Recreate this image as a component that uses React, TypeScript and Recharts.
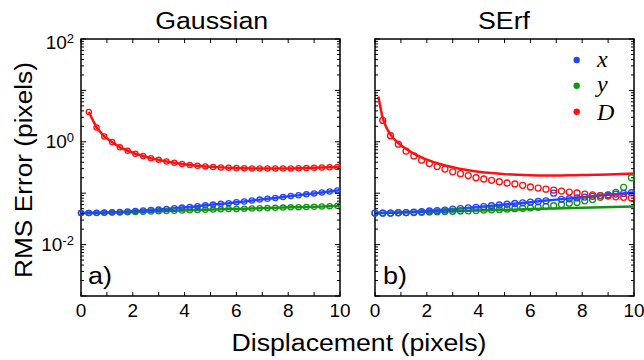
import { ComposedChart, Line, Scatter, XAxis, YAxis, ReferenceArea } from 'recharts';

// sample positions (pixels of displacement)
const markerX = [0, 0.3, 0.6, 0.9, 1.2, 1.5, 1.8, 2.1, 2.4, 2.7, 3.0, 3.3, 3.6, 3.9, 4.2, 4.5, 4.8, 5.1, 5.4, 5.7, 6.0, 6.3, 6.6, 6.9, 7.2, 7.5, 7.8, 8.1, 8.4, 8.7, 9.0, 9.3, 9.6, 9.9];
const markerXNoZero = markerX.slice(1);

// (a) Gaussian: simulated errors
const gaussX = [0.041, 0.041, 0.0415, 0.042, 0.0425, 0.043, 0.044, 0.045, 0.046, 0.047, 0.048, 0.0495, 0.051, 0.0525, 0.054, 0.056, 0.058, 0.06, 0.062, 0.064, 0.067, 0.069, 0.072, 0.075, 0.078, 0.081, 0.084, 0.088, 0.091, 0.095, 0.099, 0.103, 0.108, 0.113];
const gaussY = [0.041, 0.041, 0.041, 0.0415, 0.042, 0.042, 0.0425, 0.043, 0.0435, 0.044, 0.0445, 0.045, 0.0455, 0.046, 0.0465, 0.047, 0.0475, 0.048, 0.0485, 0.049, 0.0495, 0.05, 0.0505, 0.051, 0.0515, 0.052, 0.0525, 0.053, 0.0535, 0.054, 0.0545, 0.055, 0.056, 0.057];
const gaussD = [3.8, 1.9, 1.27, 0.99, 0.78, 0.67, 0.585, 0.53, 0.48, 0.445, 0.415, 0.39, 0.37, 0.355, 0.342, 0.332, 0.324, 0.318, 0.313, 0.309, 0.306, 0.304, 0.303, 0.302, 0.302, 0.303, 0.304, 0.306, 0.309, 0.312, 0.316, 0.32, 0.324];
// end values of the fit at x = 10
const gaussEnd = { x: 0.115, y: 0.0573, D: 0.326 };

// (b) SErf: simulated errors
const serfX = [0.041, 0.041, 0.041, 0.042, 0.042, 0.043, 0.044, 0.045, 0.046, 0.047, 0.049, 0.05, 0.052, 0.053, 0.055, 0.057, 0.059, 0.061, 0.063, 0.065, 0.067, 0.069, 0.071, 0.1, 0.076, 0.078, 0.081, 0.084, 0.087, 0.09, 0.093, 0.096, 0.099, 0.102];
const serfY = [0.041, 0.041, 0.041, 0.0415, 0.042, 0.042, 0.0425, 0.043, 0.0435, 0.044, 0.0445, 0.045, 0.0455, 0.046, 0.047, 0.0475, 0.048, 0.049, 0.05, 0.051, 0.052, 0.053, 0.055, 0.057, 0.06, 0.064, 0.066, 0.071, 0.075, 0.083, 0.092, 0.104, 0.13, 0.2];
const serfD = [2.6, 1.31, 0.9, 0.66, 0.53, 0.44, 0.38, 0.33, 0.295, 0.26, 0.24, 0.22, 0.2, 0.189, 0.178, 0.167, 0.158, 0.151, 0.142, 0.132, 0.126, 0.12, 0.115, 0.11, 0.105, 0.101, 0.096, 0.093, 0.09, 0.088, 0.085, 0.083, 0.081];

// (b) SErf: theory curves
const serfFitDX = [0.13, 0.2, 0.3, 0.45, 0.6, 0.8, 1.0, 1.25, 1.5, 1.75, 2.0, 2.5, 3.0, 3.5, 4.0, 4.5, 5.0, 5.5, 6.0, 6.5, 7.0, 7.5, 8.0, 8.5, 9.0, 9.5, 10];
const serfFitD = [7.6, 4.9, 2.9, 1.85, 1.38, 1.05, 0.86, 0.7, 0.59, 0.51, 0.45, 0.37, 0.32, 0.285, 0.262, 0.246, 0.235, 0.228, 0.224, 0.222, 0.222, 0.223, 0.225, 0.228, 0.232, 0.237, 0.242];
const serfFitXX = [0, 1, 2, 3, 4, 5, 6, 7, 8, 9, 10];
const serfFitX = [0.041, 0.042, 0.045, 0.049, 0.054, 0.06, 0.067, 0.075, 0.083, 0.093, 0.103];
const serfFitYX = [0, 2, 4, 6, 8, 10];
const serfFitY = [0.041, 0.0435, 0.046, 0.049, 0.052, 0.055];

const xTicks = [0, 1, 2, 3, 4, 5, 6, 7, 8, 9, 10];
const decades = [0.001, 0.01, 0.1, 1, 10];
const minorSteps = [1, 2, 3, 4, 5, 6, 7, 8, 9];
const yTicks = [...decades.flatMap((d) => minorSteps.map((m) => +(d * m).toPrecision(3))), 100];
const labelledExps = [2, 0, -2];

const BLUE = '#2244ff';
const GREEN = '#129612';
const RED = '#ff1010';
const FONT = '"Liberation Sans", Arial, sans-serif';

const PLOT_W = 259;
const PLOT_H = 257;

const zip = (xs: number[], ys: number[]) => xs.map((x, i) => ({ x, y: ys[i] }));

function YTick(props: any) {
  const { x, y, payload, showLabels } = props;
  const v = payload.value as number;
  const exp = Math.round(Math.log10(v));
  const major = Math.abs(v - Math.pow(10, exp)) < 1e-6 * v;
  const len = major ? 5 : 3;
  const label = showLabels && major && labelledExps.includes(exp);
  const base = y + (exp === 2 ? 9.5 : 6.5);
  return (
    <g>
      <line x1={x} x2={x + len} y1={y} y2={y} stroke="#000" strokeWidth={1} />
      <line x1={x + PLOT_W} x2={x + PLOT_W - len} y1={y} y2={y} stroke="#000" strokeWidth={1} />
      {label && (
        <text x={x - 7} y={base} textAnchor="end" fontSize={19} fontFamily={FONT} fill="#000">
          10
          <tspan dy={-6} fontSize={13}>
            {exp}
          </tspan>
        </text>
      )}
    </g>
  );
}

function XTick(props: any) {
  const { x, y, payload } = props;
  const v = payload.value as number;
  return (
    <g>
      <line x1={x} x2={x} y1={y} y2={y - 4} stroke="#000" strokeWidth={1} />
      <line x1={x} x2={x} y1={y - PLOT_H} y2={y - PLOT_H + 4} stroke="#000" strokeWidth={1} />
      {v % 2 === 0 && (
        <text x={x} y={y + 21} textAnchor="middle" fontSize={19} fontFamily={FONT} fill="#000">
          {v}
        </text>
      )}
    </g>
  );
}

const ring = (color: string, r: number, w: number) => (p: any) => (
  <circle cx={p.cx} cy={p.cy} r={r} fill="none" stroke={color} strokeWidth={w} />
);

function Panel({ width, left, right, showLabels, children }: any) {
  return (
    <ComposedChart width={width} height={360} margin={{ top: 39, right, bottom: 54, left }}>
      <XAxis
        type="number"
        dataKey="x"
        domain={[0, 10]}
        ticks={xTicks}
        interval={0}
        height={10}
        tickSize={0}
        tickMargin={0}
        tickLine={false}
        axisLine={false}
        tick={<XTick />}
      />
      <YAxis
        type="number"
        dataKey="y"
        scale="log"
        domain={[0.001, 100]}
        allowDataOverflow
        ticks={yTicks}
        interval={0}
        width={10}
        tickSize={0}
        tickMargin={0}
        tickLine={false}
        axisLine={false}
        tick={<YTick showLabels={showLabels} />}
      />
      {children}
      <ReferenceArea x1={0} x2={10} y1={0.001} y2={100} fill="none" stroke="#000" strokeWidth={1.5} ifOverflow="visible" />
    </ComposedChart>
  );
}

export default function App() {
  const gaussLineX = [...markerX, 10];
  const gaussLineD = [...markerXNoZero, 10];
  return (
    <div style={{ position: 'absolute', left: 0, top: 0, width: 644, height: 360, background: '#fff' }}>
      <div style={{ position: 'absolute', left: 0, top: 0 }}>
        <Panel width={350} left={71} right={10} showLabels>
          <Line data={zip(gaussLineX, [...gaussY, gaussEnd.y])} dataKey="y" stroke={GREEN} strokeWidth={2.5} dot={false} activeDot={false} isAnimationActive={false} />
          <Line data={zip(gaussLineX, [...gaussX, gaussEnd.x])} dataKey="y" stroke={BLUE} strokeWidth={2.5} dot={false} activeDot={false} isAnimationActive={false} />
          <Line data={zip(gaussLineD, [...gaussD, gaussEnd.D])} dataKey="y" stroke={RED} strokeWidth={2.5} dot={false} activeDot={false} isAnimationActive={false} />
          <Scatter data={zip(markerX, gaussY)} shape={ring(GREEN, 2.6, 1.3)} isAnimationActive={false} />
          <Scatter data={zip(markerX, gaussX)} shape={ring(BLUE, 2.6, 1.3)} isAnimationActive={false} />
          <Scatter data={zip(markerXNoZero, gaussD)} shape={ring(RED, 2.6, 1.3)} isAnimationActive={false} />
        </Panel>
      </div>
      <div style={{ position: 'absolute', left: 320, top: 0 }}>
        <Panel width={324} left={45} right={10} showLabels={false}>
          <Line data={zip(serfFitYX, serfFitY)} dataKey="y" type="monotone" stroke={GREEN} strokeWidth={2.5} dot={false} activeDot={false} isAnimationActive={false} />
          <Line data={zip(serfFitXX, serfFitX)} dataKey="y" type="monotone" stroke={BLUE} strokeWidth={2.5} dot={false} activeDot={false} isAnimationActive={false} />
          <Line data={zip(serfFitDX, serfFitD)} dataKey="y" type="monotone" stroke={RED} strokeWidth={2.5} dot={false} activeDot={false} isAnimationActive={false} />
          <Scatter data={zip(markerX, serfY)} shape={ring(GREEN, 3, 1.3)} isAnimationActive={false} />
          <Scatter data={zip(markerX, serfX)} shape={ring(BLUE, 3, 1.3)} isAnimationActive={false} />
          <Scatter data={zip(markerXNoZero, serfD)} shape={ring(RED, 3, 1.3)} isAnimationActive={false} />
        </Panel>
      </div>
      <svg width={644} height={360} style={{ position: 'absolute', left: 0, top: 0, pointerEvents: 'none' }}>
        <g fontFamily={FONT} fontSize={23} fill="#000">
          <text x={211.7} y={29} textAnchor="middle" textLength={113} lengthAdjust="spacingAndGlyphs">Gaussian</text>
          <text x={504} y={29} textAnchor="middle" textLength={52} lengthAdjust="spacingAndGlyphs">SErf</text>
          <text x={359} y={351} textAnchor="middle" textLength={255} lengthAdjust="spacingAndGlyphs">Displacement (pixels)</text>
          <text transform="translate(32,170) rotate(-90)" textAnchor="middle" textLength={216} lengthAdjust="spacingAndGlyphs">RMS Error (pixels)</text>
          <text x={88} y={284} textLength={24} lengthAdjust="spacingAndGlyphs">a)</text>
          <text x={383} y={284} textLength={24} lengthAdjust="spacingAndGlyphs">b)</text>
        </g>
        <g fontFamily='"Liberation Serif", "Times New Roman", serif' fontStyle="italic" fontSize={24} fill="#000">
          <circle cx={576.7} cy={60} r={3.2} fill={BLUE} />
          <circle cx={576.7} cy={85.7} r={3.2} fill={GREEN} />
          <circle cx={576.7} cy={111.7} r={3.2} fill={RED} />
          <text x={597} y={66.5}>x</text>
          <text x={597} y={92}>y</text>
          <text x={597} y={119.5}>D</text>
        </g>
      </svg>
    </div>
  );
}
